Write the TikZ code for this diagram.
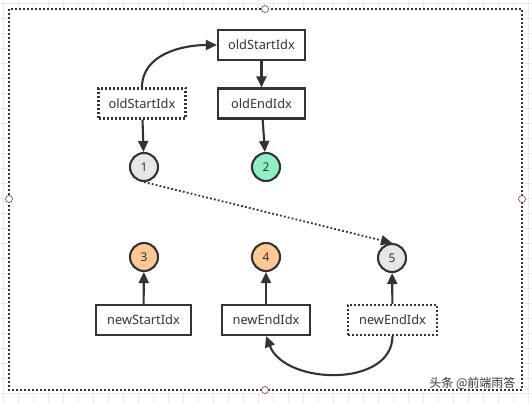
\documentclass[tikz,border=0pt]{standalone}
\usepackage{fontspec}
\setmainfont{Noto Sans}
\newfontfamily\cjk{Noto Sans CJK SC}
\usetikzlibrary{arrows.meta}
\definecolor{ink}{HTML}{333333}
\definecolor{cgray}{HTML}{E6E6E6}
\definecolor{cgreen}{HTML}{8FF0C6}
\definecolor{corange}{HTML}{FFC894}
\definecolor{handle}{HTML}{8B4A5A}
\begin{document}
\begin{tikzpicture}[x=1pt,y=-1pt,
  box/.style={draw=ink, line width=2.1pt, minimum width=87pt, minimum height=30pt, inner sep=0pt, text=ink, font=\fontsize{12.8}{15}\selectfont},
  dbox/.style={box, dash pattern=on 2pt off 2pt},
  circ/.style={circle, draw=ink, line width=2.1pt, minimum size=28pt, inner sep=0pt, text=ink, font=\fontsize{12}{14}\selectfont},
  arr/.style={draw=ink, line width=2.1pt, -{Triangle[length=11pt,width=10pt]}},
  hnd/.style={circle, draw=handle, fill=white, line width=0.7pt, minimum size=7pt, inner sep=0pt}]
\useasboundingbox (0,0) rectangle (532,403);
\fill[white] (0,0) rectangle (532,403);
\foreach \i in {3,18,...,531} \draw[black!8, line width=0.5pt] (\i,0) -- (\i,403);
\foreach \j in {3,18,...,402} \draw[black!8, line width=0.5pt] (0,\j) -- (532,\j);
\draw[fill=white, draw=ink, line width=1.6pt, dash pattern=on 1.8pt off 2.2pt] (9,9) rectangle (522,390);
\node[hnd] (h1) at (265,9) {};
\node[hnd] (h2) at (9,199) {};
\node[hnd] (h3) at (522,199) {};
\node[hnd] (h4) at (265,390) {};

\node[box] (os) at (261.5,45) {oldStartIdx};
\node[dbox] (ds) at (142,103.5) {oldStartIdx};
\node[box] (oe) at (261.5,103.5) {oldEndIdx};
\node[circ, fill=cgray] (c1) at (144,167) {1};
\node[circ, fill=cgreen] (c2) at (266,167) {2};
\node[circ, fill=corange] (c3) at (144,257) {3};
\node[circ, fill=corange] (c4) at (266,257) {4};
\node[circ, fill=cgray] (c5) at (392,258) {5};
\node[box, minimum width=95pt] (ns) at (143.5,320) {newStartIdx};
\node[box, minimum width=88pt] (ne) at (266,320) {newEndIdx};
\node[dbox, minimum width=89pt] (ne2) at (392.5,320) {newEndIdx};

\draw[arr] (ds.north) to[out=90,in=180] (os.west);
\draw[arr] (os) -- (oe);
\draw[arr] (ds) -- (c1);
\draw[arr] (oe) -- (c2);
\draw[arr, dash pattern=on 1.8pt off 2.2pt, line width=1.8pt] (c1.south) -- (c5.north);
\draw[arr] (ns) -- (c3);
\draw[arr] (ne) -- (c4);
\draw[arr] (ne2) -- (c5);
\draw[arr] (ne2.south) .. controls (392,388) and (285,385) .. (ne.south);

\node[text=ink, font=\cjk\fontsize{12}{14}\selectfont, anchor=east] (wm) at (519,383) {头条 @前端雨答};
\end{tikzpicture}
\end{document}
